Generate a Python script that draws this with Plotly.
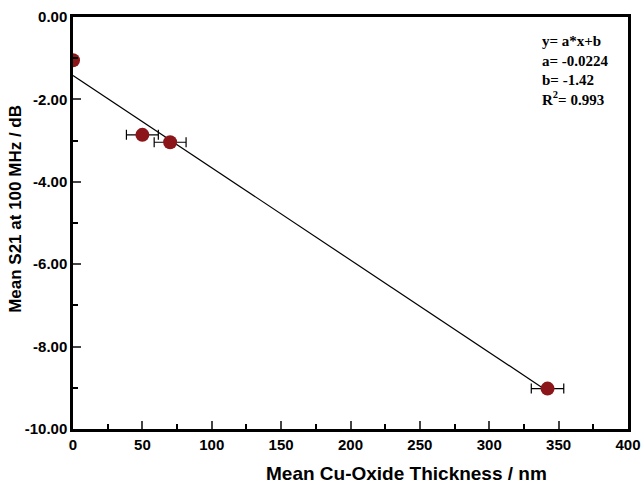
import plotly.graph_objects as go

thickness = [0, 50, 70, 342]
s21 = [-1.05, -2.86, -3.04, -9.02]
thickness_err = [0, 11.5, 11.5, 11.7]
fit_a = -0.0224
fit_b = -1.42
fit_x = [0, 342]
fit_y = [fit_a * v + fit_b for v in fit_x]
x_ticks = [0, 50, 100, 150, 200, 250, 300, 350, 400]
y_ticks = [0, -2, -4, -6, -8, -10]
y_tick_labels = ["0.00", "-2.00", "-4.00", "-6.00", "-8.00", "-10.00"]
x_title = "Mean Cu-Oxide Thickness / nm"
y_title = "Mean S21 at 100 MHz / dB"

fig = go.Figure()
fig.add_trace(go.Scatter(x=fit_x, y=fit_y, mode="lines",
                         line=dict(color="black", width=1.2), showlegend=False))
fig.add_trace(go.Scatter(
    x=thickness, y=s21, mode="markers",
    marker=dict(color="#8B1518", size=14),
    error_x=dict(type="data", array=thickness_err, visible=True,
                 color="black", thickness=1.2, width=5),
    showlegend=False))

fig.update_layout(
    width=641, height=487,
    margin=dict(l=73, r=13, t=17, b=58),
    paper_bgcolor="white", plot_bgcolor="white",
    xaxis=dict(range=[0, 400], tickvals=x_ticks, ticks="inside", ticklen=8,
               tickwidth=2, showline=True, linewidth=2.5, linecolor="black",
               mirror=True, showgrid=False, zeroline=False, automargin=False,
               tickfont=dict(family="Liberation Sans", size=15, color="black", weight="bold"),
               minor=dict(dtick=25, ticks="inside", ticklen=5, tickwidth=2, tickcolor="black")),
    yaxis=dict(range=[-10, 0], tickvals=y_ticks, ticktext=y_tick_labels,
               ticks="inside", ticklen=8, tickwidth=2, showline=True,
               linewidth=2.5, linecolor="black", mirror=True, showgrid=False,
               zeroline=False, automargin=False,
               tickfont=dict(family="Liberation Sans", size=15, color="black", weight="bold"),
               minor=dict(dtick=1, ticks="inside", ticklen=5, tickwidth=2, tickcolor="black")),
)
fig.add_annotation(
    xref="paper", yref="paper", x=0.6, y=-0.109, xanchor="center", yanchor="middle",
    showarrow=False, text=f"<b>{x_title}</b>",
    font=dict(family="Liberation Sans", size=19, color="black"))
fig.add_annotation(
    xref="paper", yref="paper", x=-0.104, y=0.535, xanchor="center", yanchor="middle",
    showarrow=False, textangle=-90, text=f"<b>{y_title}</b>",
    font=dict(family="Liberation Sans", size=17, color="black"))
fig.add_annotation(
    xref="paper", yref="paper", x=0.842, y=0.965, xanchor="left", yanchor="top",
    align="left", showarrow=False,
    text=f"<b>y= a*x+b<br>a= {fit_a}<br>b= {fit_b}<br>R<sup>2</sup>= 0.993</b>",
    font=dict(family="Liberation Serif", size=15, color="black"))
fig.write_html("out.html", config={"displayModeBar": False},
               post_script="document.body.style.margin='0';document.body.style.overflow='hidden';")
